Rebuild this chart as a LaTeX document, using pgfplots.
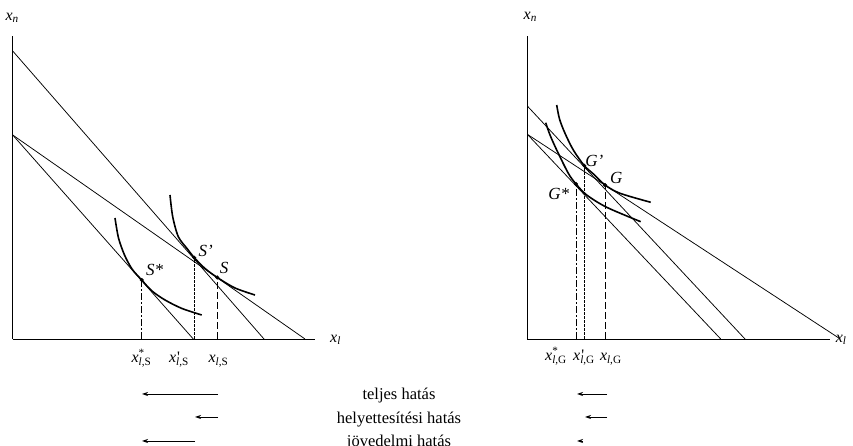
\documentclass[border=0pt]{standalone}
\usepackage{fontspec}
\setmainfont{Liberation Serif}
\usepackage{pgfplots}
\pgfplotsset{compat=1.18}
\usetikzlibrary{arrows.meta}

% labels in Times-like italics
\newcommand{\xs}[2]{\textit{x}\rlap{#1}\textsubscript{\textit{l},#2}}
\newcommand{\plab}[1]{{\fontsize{17}{19}\selectfont\textit{#1}}}

\tikzset{lbl/.style={font=\fontsize{16}{18}\selectfont}}
\pgfplotsset{
  panel/.style={x=1pt, y=1pt, xmin=0, xmax=302.5, ymin=0, ymax=303,
    axis lines=left, axis line style={-, line width=0.8pt}, ticks=none, clip=false},
  budget/.style={no marks, line width=0.75pt, black},
  ic/.style={no marks, smooth, line width=1.6pt, black},
  dot/.style={only marks, mark=*, mark size=1.8pt, black},
  dashdot/.style={no marks, line width=0.7pt, dash pattern=on 7pt off 2pt on 2pt off 2pt},
  dense/.style={no marks, line width=0.7pt, dash pattern=on 2.5pt off 1.5pt},
  longdash/.style={no marks, line width=0.7pt, dash pattern=on 7pt off 3pt},
  arr/.style={no marks, line width=0.8pt, -{Stealth[length=6pt,width=4pt]}},
}

\begin{document}
\begin{tikzpicture}
\useasboundingbox (0,0) rectangle (853pt,446pt);

% ---- left panel (S) ----
\begin{axis}[panel, at={(12.7pt,107pt)}, anchor=south west]
\addplot[budget] coordinates {(0,288) (251.3,0)};
\addplot[budget] coordinates {(0,204) (292.3,0)};
\addplot[budget] coordinates {(0,204) (180.6,0)};
\addplot[ic] coordinates {(157.3,144) (160,122.3) (165.6,102.3) (174.3,90.5) (181.6,81.3) (192.3,70.5) (204.6,61.5) (222.3,51) (242.3,44)};
\addplot[ic] coordinates {(102.3,121) (105.8,101) (111.8,84) (119.3,70) (129,59) (139.3,48) (152.3,39) (169.3,30.5) (189,24)};
\addplot[dashdot] coordinates {(129,0) (129,59)};
\addplot[dense] coordinates {(181.6,0) (181.6,81.3)};
\addplot[longdash] coordinates {(204.6,0) (204.6,61.5)};
\addplot[dot] coordinates {(129,59) (181.6,81.3) (204.6,61.5)};
\addplot[arr] coordinates {(205.3,-55) (129.3,-55)};
\addplot[arr] coordinates {(205.3,-78) (182.3,-78)};
\addplot[arr] coordinates {(182.3,-102) (129.3,-102)};
\node at (axis cs:142,69) {\plab{S*}};
\node at (axis cs:193,88) {\plab{S'}};
\node at (axis cs:211.3,71) {\plab{S}};
\node[lbl] at (axis cs:-0.5,321) {\textit{x}\textsubscript{\textit{n}}};
\node[lbl, anchor=west] at (axis cs:314,-1) {\textit{x}\textsubscript{\textit{l}}};
\node[lbl, anchor=base] at (axis cs:128.8,-24) {\xs{\textsuperscript{*}}{S}};
\node[lbl, anchor=base] at (axis cs:166.3,-24) {\xs{\kern1pt\textquotesingle}{S}};
\node[lbl, anchor=base] at (axis cs:205.8,-24) {\xs{}{S}};
\end{axis}

% ---- right panel (G) ----
\begin{axis}[panel, at={(527.3pt,107pt)}, anchor=south west]
\addplot[budget] coordinates {(0,233) (217.7,0)};
\addplot[budget] coordinates {(0,204.7) (313,0)};
\addplot[budget] coordinates {(0,204.7) (193.4,0)};
\addplot[ic] coordinates {(29.4,234) (32.2,220) (37.7,205.7) (46,189) (57,173.3) (66.7,164.5) (77.7,154) (92.7,145.7) (123.4,136.7)};
\addplot[ic] coordinates {(18.4,216.3) (22.7,204) (29.4,189) (41,165.7) (48.7,155) (59.4,144) (79.4,131.7) (113.4,117.3)};
\addplot[dashdot] coordinates {(48.7,0) (48.7,155)};
\addplot[dense] coordinates {(57,0) (57,173.3)};
\addplot[longdash] coordinates {(77.7,0) (77.7,154)};
\addplot[dot] coordinates {(48.7,155) (57,173.3) (77.7,154)};
\addplot[arr] coordinates {(79.7,-55) (49.7,-55)};
\addplot[arr] coordinates {(79.7,-78) (57.7,-78)};
\addplot[arr] coordinates {(55.7,-102) (49.7,-102)};
\node at (axis cs:67,178) {\plab{G'}};
\node at (axis cs:89,161) {\plab{G}};
\node at (axis cs:31.5,145) {\plab{G*}};
\node[lbl] at (axis cs:3,322) {\textit{x}\textsubscript{\textit{n}}};
\node[lbl, anchor=west] at (axis cs:305,-1) {\textit{x}\textsubscript{\textit{l}}};
\node[lbl, anchor=base] at (axis cs:28.7,-22) {\xs{\textsuperscript{*}}{G}};
\node[lbl, anchor=base] at (axis cs:56.7,-22) {\xs{\kern1pt\textquotesingle}{G}};
\node[lbl, anchor=base] at (axis cs:83.5,-22) {\xs{}{G}};
\end{axis}

% ---- effect captions ----
\begin{scope}[every node/.style={anchor=base, font=\fontsize{16.5}{19}\selectfont}]
\node at (399pt,46pt) {teljes hatás};
\node at (399pt,22.5pt) {helyettesítési hatás};
\node at (399pt,-0.5pt) {jövedelmi hatás};
\end{scope}
\end{tikzpicture}
\end{document}
